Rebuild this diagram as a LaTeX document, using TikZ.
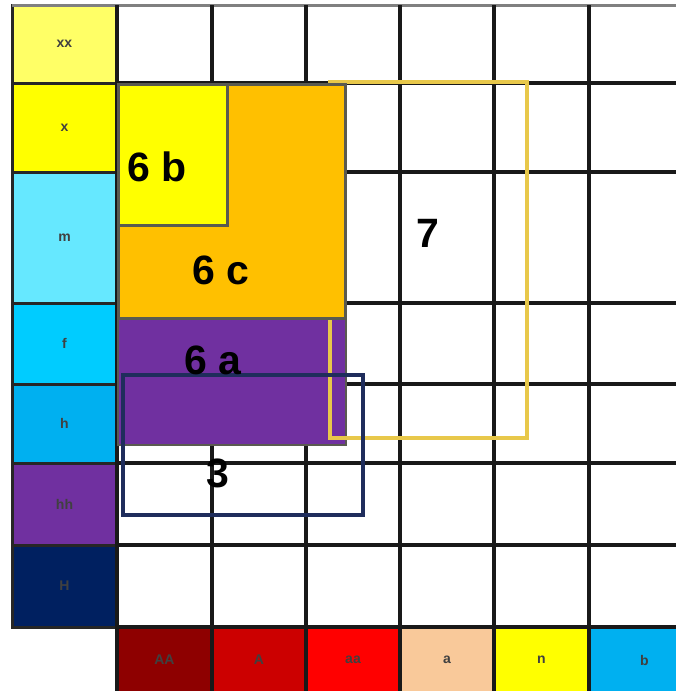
\documentclass[tikz,border=0pt]{standalone}
\usepackage{fontspec}
\setmainfont{Liberation Sans}
\setsansfont{Liberation Sans}

\definecolor{cxx}{HTML}{FFFF66}
\definecolor{cx}{HTML}{FFFF00}
\definecolor{cm}{HTML}{66E8FF}
\definecolor{cf}{HTML}{00CCFF}
\definecolor{ch}{HTML}{00B0F0}
\definecolor{chh}{HTML}{7030A0}
\definecolor{cH}{HTML}{002060}
\definecolor{cAA}{HTML}{8E0000}
\definecolor{cA}{HTML}{CC0000}
\definecolor{caa}{HTML}{FF0000}
\definecolor{ca}{HTML}{F9C99A}
\definecolor{cn}{HTML}{FFFF00}
\definecolor{cb}{HTML}{00B0F0}
\definecolor{corange}{HTML}{FFC000}
\definecolor{cpurple}{HTML}{7030A0}
\definecolor{cedge}{HTML}{5A5A50}
\definecolor{cnavy}{HTML}{1F2D5C}
\definecolor{cgold}{HTML}{E8C84A}

\begin{document}
\begin{tikzpicture}[x=1pt,y=-1pt,
    cell/.style={draw=black!85,line width=3pt},
    gridline/.style={black!90,line width=3.5pt},
    lab/.style={font=\fontsize{14}{14}\selectfont\bfseries,text=black!75},
    big/.style={font=\fontsize{41}{41}\selectfont\bfseries,text=black}]
    \useasboundingbox (0,0) rectangle (675,691);
    \fill[white] (0,0) rectangle (675,691);

    % left column
    \foreach \lbl/\ya/\yb/\col in {xx/5/83/cxx, x/83/172/cx, m/172/303/cm,
        f/303/384/cf, h/384/463/ch, hh/463/545/chh, H/545/627/cH} {
        \filldraw[cell,fill=\col] (12,\ya) rectangle (117,\yb);
        \node[lab] (row-\lbl) at (64.5,{(\ya+\yb)/2}) {\lbl};
    }

    % bottom row
    \foreach \lbl/\xa/\xb/\col in {AA/117/212/cAA, A/212/306/cA, aa/306/400/caa,
        a/400/494/ca, n/494/589/cn, b/589/700/cb} {
        \filldraw[cell,fill=\col] (\xa,627) rectangle (\xb,700);
        \node[lab] (col-\lbl) at ({(\xa+\xb)/2},660) {\lbl};
    }

    % grid
    \draw[gray,line width=3pt] (12,5) -- (690,5);
    \foreach \y in {83,172,303,384,463,545,627}
        \draw[gridline] (117,\y) -- (690,\y);
    \foreach \x in {117,212,306,400,494,589}
        \draw[gridline] (\x,5) -- (\x,691);

    % region 6 a and box 7
    \filldraw[fill=cpurple,draw=cedge,line width=2.5pt] (118,318) rectangle (346,445);
    \draw[cgold,line width=3.8pt] (330,82) rectangle (527,438);

    % regions 6 c and 6 b
    \filldraw[fill=corange,draw=cedge,line width=3pt] (118,84) rectangle (345,318);
    \filldraw[fill=cx,draw=cedge,line width=3pt] (118,84) rectangle (227,225);

    % box 3
    \draw[cnavy,line width=3.4pt] (123,375) rectangle (363,515);

    % labels
    \node[big] (lbl6b) at (157,167) {6 b};
    \node[big] (lbl6c) at (221,270) {6 c};
    \node[big] (lbl6a) at (213,360) {6 a};
    \node[big] (lbl3) at (218,473) {3};
    \node[big] (lbl7) at (428,233) {7};
\end{tikzpicture}
\end{document}
